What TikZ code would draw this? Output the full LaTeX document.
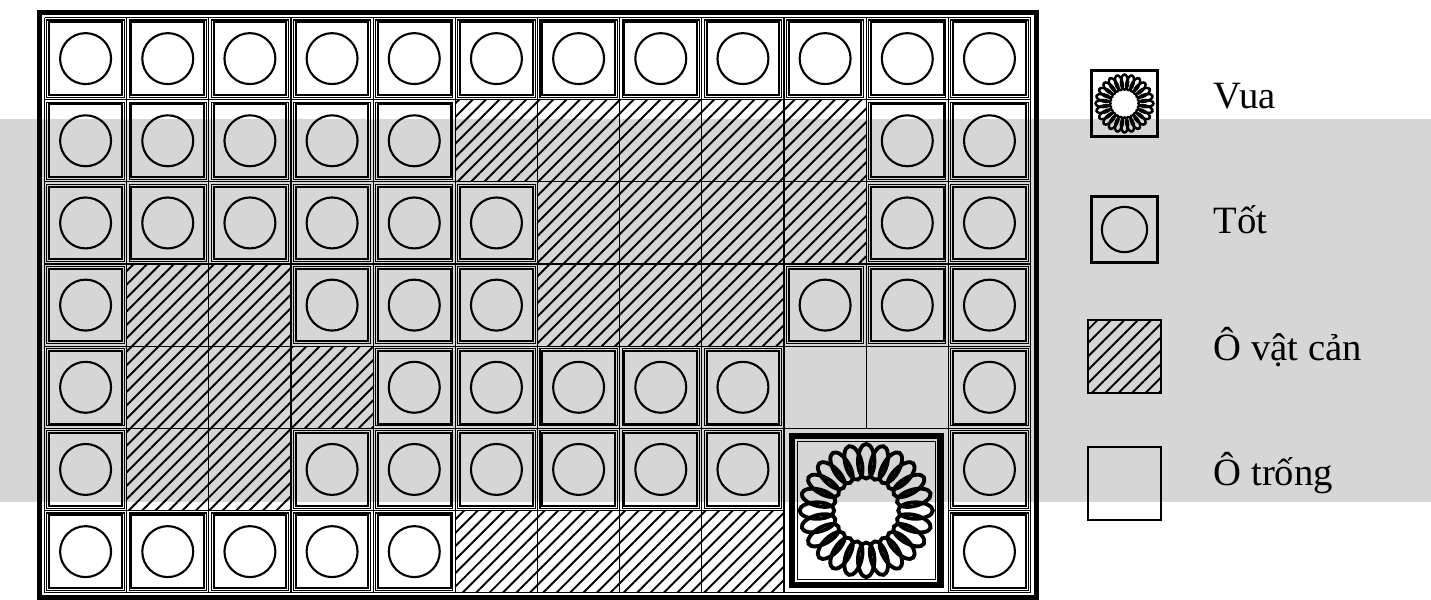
\documentclass[tikz,border=0pt]{standalone}
\usepackage{fontspec}
\setmainfont{Liberation Serif}
\usetikzlibrary{patterns.meta}
\definecolor{BandGray}{HTML}{D6D6D6}

\begin{document}
\begin{tikzpicture}[x=1cm, y=-1cm,
  % ── line styles ──────────────────────────────────────────
  thickframe/.style={line width=1.55pt},
  gridline/.style={line width=0.35pt},
  hatch/.style={pattern={Lines[angle=45, distance=2.7pt, line width=0.55pt]}},
  % ── legend text ──────────────────────────────────────────
  legendtext/.style={anchor=base west, inner sep=0pt,
                     font=\fontsize{11pt}{13pt}\selectfont},
  % ── cell pictures (one cell = 1 unit) ────────────────────
  pics/cellframe/.style={code={
    \draw[line width=0.3pt]  (0.03,0.03)   rectangle (0.97,0.97);
    \draw[line width=0.55pt] (0.058,0.058) rectangle (0.942,0.942);
  }},
  pics/pawn/.style={code={
    \draw[line width=0.3pt]  (0.03,0.03)   rectangle (0.97,0.97);
    \draw[line width=0.55pt] (0.058,0.058) rectangle (0.942,0.942);
    \draw[line width=0.6pt]  (0.5,0.5) circle[radius=0.31];
  }},
  pics/rosette/.style={code={
    \foreach \a in {0,15,...,345}
      \draw[rotate=\a] (0.6,0) ellipse[x radius=0.21, y radius=0.1];
  }}
]

\useasboundingbox (0,0) rectangle (14.31,5.99);

%% ── grey band ──
\fill[BandGray] (0,1.185) rectangle (14.31,5.02);

%% ── board ──
\begin{scope}[shift={(0.445cm,-0.175cm)}, x=0.8217cm, y=-0.8217cm]
  % obstacles
  \foreach \c/\r in {5/1,6/1,7/1,8/1,9/1, 6/2,7/2,8/2,9/2,
                     1/3,2/3,6/3,7/3,8/3, 1/4,2/4,3/4, 1/5,2/5,
                     5/6,6/6,7/6,8/6}
    \path[hatch] (\c,\r) rectangle ++(1,1);

  % grid (no lines through the king)
  \foreach \c in {0,1,2,3,4,5,6,7,8,9,11,12}
    \draw[gridline] (\c,0) -- (\c,7);
  \draw[gridline] (10,0) -- (10,5);
  \foreach \r in {0,1,2,3,4,5,7}
    \draw[gridline] (0,\r) -- (12,\r);
  \draw[gridline] (0,6) -- (9,6) (11,6) -- (12,6);

  % pawns, row by row
  \foreach \r/\cols in {0/{0,1,2,3,4,5,6,7,8,9,10,11},
                        1/{0,1,2,3,4,10,11},
                        2/{0,1,2,3,4,5,10,11},
                        3/{0,3,4,5,9,10,11},
                        4/{0,4,5,6,7,8,11},
                        5/{0,3,4,5,6,7,8,11},
                        6/{0,1,2,3,4,11}}
    \foreach \c in \cols
      \pic at (\c,\r) {pawn};

  % king
  \draw[line width=1.85pt] (9.095,5.095) rectangle (10.905,6.905);
  \draw[line width=0.35pt] (9.16,5.16) rectangle (10.84,6.84);
  \pic[line width=1.1pt] at (10,6) {rosette};
\end{scope}

%% ── outer frame ──
\draw[thickframe] (0.395,0.125) rectangle (10.365,5.977);

%% ── legend ──
\begin{scope}[shift={(10.88cm,-0.67cm)}, x=0.73cm, y=-0.73cm]
  \pic at (0,0) {cellframe};
  \pic[scale=0.49, line width=0.7pt] at (0.5,0.5) {rosette};
  \pic at (0,1.726) {pawn};
  \path[hatch] (0,3.466) rectangle ++(1,1);
  \draw[gridline] (0,3.466) rectangle ++(1,1);
  \draw[gridline] (0,5.205) rectangle ++(1,1);
\end{scope}

\node[legendtext] (vuaT)    at (12.13,1.08) {Vua};
\node[legendtext] (totT)    at (12.13,2.33) {Tốt};
\node[legendtext] (vatcanT) at (12.13,3.60) {Ô vật cản};
\node[legendtext] (trongT)  at (12.13,4.85) {Ô trống};

\end{tikzpicture}
\end{document}
